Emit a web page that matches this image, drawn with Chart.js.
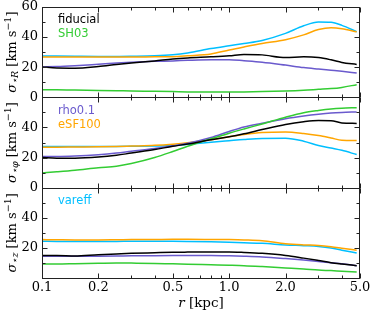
<!DOCTYPE html>
<html>
<head>
<meta charset="utf-8">
<script src="https://cdn.jsdelivr.net/npm/chart.js@4.4.1/dist/chart.umd.min.js"></script>
<style>
    html, body { margin: 0; padding: 0; background: #fff; }
    #chart { display: block; }
</style>
</head>
<body>
<canvas id="chart" width="373" height="313"></canvas>
<script>
// Radii (kpc) where the profiles are sampled
const radii = [0.1, 0.12, 0.15, 0.2, 0.25, 0.3, 0.4, 0.5, 0.6, 0.8, 1.0, 1.2, 1.5, 2.0, 2.5, 3.0, 3.5, 4.0, 4.8];

// sigma_R (km/s)
const fiducialR = [20.2, 19.5, 19.4, 20.5, 21.8, 22.8, 24.2, 25.5, 26.2, 26.9, 27.6, 28.5, 28.2, 26.4, 26.9, 26.4, 24.9, 23.2, 21.8];
const sh03R     = [5.1, 5.0, 4.8, 4.6, 4.4, 4.2, 4.0, 3.8, 3.6, 3.5, 3.5, 3.6, 3.8, 4.2, 4.7, 5.3, 5.8, 6.6, 8.4];
const rho01R    = [20.2, 20.4, 21.0, 22.0, 22.8, 23.3, 23.9, 24.2, 24.6, 25.0, 25.0, 24.3, 23.3, 21.4, 19.8, 18.8, 18.0, 17.3, 16.2];
const esf100R   = [26.8, 26.8, 26.8, 26.8, 26.8, 26.8, 26.9, 27.0, 27.6, 28.8, 31.5, 33.5, 35.8, 38.3, 41.5, 45.0, 46.2, 45.6, 43.5];
const vareffR   = [27.5, 27.4, 27.3, 27.2, 27.2, 27.3, 27.6, 28.3, 29.5, 32.4, 34.3, 35.8, 37.8, 42.5, 47.5, 50.0, 49.8, 47.8, 43.6];

// sigma_phi (km/s)
const fiducialPhi = [20.0, 19.6, 19.6, 20.3, 21.5, 23.0, 25.3, 27.5, 29.0, 31.8, 33.8, 35.8, 38.6, 42.0, 43.8, 44.6, 44.5, 43.0, 42.7];
const sh03Phi     = [9.8, 10.5, 11.5, 13.2, 14.2, 16.0, 20.0, 24.0, 27.5, 32.5, 36.2, 39.0, 42.3, 46.8, 49.8, 51.3, 52.3, 52.8, 53.1];
const rho01Phi    = [20.7, 20.7, 21.0, 21.9, 23.0, 24.2, 26.0, 27.8, 29.5, 33.3, 37.3, 40.3, 42.8, 45.8, 47.6, 48.8, 49.6, 50.0, 50.3];
const esf100Phi   = [26.9, 26.9, 27.0, 27.1, 27.3, 27.6, 28.1, 28.9, 29.8, 31.8, 33.8, 35.3, 36.6, 37.0, 36.0, 34.6, 33.0, 31.5, 31.3];
const vareffPhi   = [27.3, 27.3, 27.3, 27.4, 27.4, 27.5, 27.7, 28.0, 28.8, 30.2, 31.2, 32.0, 32.7, 32.8, 30.9, 28.0, 26.3, 24.8, 22.0];

// sigma_z (km/s)
const fiducialZ = [14.9, 14.9, 14.6, 15.5, 16.0, 16.4, 16.8, 17.1, 17.2, 17.3, 17.3, 17.0, 16.4, 15.0, 13.2, 11.6, 10.2, 9.3, 8.2];
const sh03Z     = [9.3, 9.3, 9.5, 9.8, 10.0, 9.9, 9.7, 9.4, 9.2, 8.8, 8.5, 8.2, 7.6, 6.7, 6.0, 5.3, 4.9, 4.5, 4.0];
const rho01Z    = [14.4, 14.4, 14.4, 14.5, 14.6, 14.7, 14.8, 14.9, 15.0, 15.0, 14.8, 14.5, 14.0, 12.9, 11.9, 11.0, 10.2, 9.4, 8.2];
const esf100Z   = [25.5, 25.4, 25.3, 25.3, 25.4, 25.5, 25.6, 25.7, 25.7, 25.6, 25.5, 25.3, 24.8, 22.8, 22.0, 21.6, 20.8, 19.8, 18.4];
const vareffZ   = [24.4, 24.3, 24.3, 24.3, 24.3, 24.4, 24.4, 24.4, 24.3, 24.0, 23.7, 23.4, 23.0, 22.0, 21.5, 21.0, 20.0, 18.5, 16.6];

// Tick values
const xTicks = [0.1, 0.2, 0.5, 1, 2, 5];
const xMinorTicks = [0.3, 0.4, 0.6, 0.7, 0.8, 0.9, 3, 4];
const yTicks = [0, 20, 40, 60];
const yMinorTicks = [10, 30, 50];

// Model names and colours
const models = ['fiducial', 'SH03', 'rho0.1', 'eSF100', 'vareff'];
const colors = ['#000000', '#33cc33', '#6a5acd', '#ffa500', '#00bfff'];

const panels = [
    { id: 'yR', sub: '⋆R', series: [fiducialR, sh03R, rho01R, esf100R, vareffR], hide: [] },
    { id: 'yPhi', sub: '⋆φ', series: [fiducialPhi, sh03Phi, rho01Phi, esf100Phi, vareffPhi], hide: [60] },
    { id: 'yZ', sub: '⋆z', series: [fiducialZ, sh03Z, rho01Z, esf100Z, vareffZ], hide: [0, 60] }
];

// Where each legend name sits (text position)
const legendSpots = [
    { x: 58, y: 20 },
    { x: 58, y: 34.5 },
    { x: 58, y: 111.5 },
    { x: 58, y: 125 },
    { x: 58, y: 201.5 }
];

// Build the datasets from the arrays above
const datasets = [];
panels.forEach(panel => {
    panel.series.forEach((values, i) => {
        datasets.push({
            label: models[i] + ' ' + panel.id,
            data: radii.map((r, k) => ({ x: r, y: values[k] })),
            yAxisID: panel.id,
            borderColor: colors[i],
            borderWidth: 1.5,
            pointRadius: 0,
            fill: false,
            cubicInterpolationMode: 'monotone'
        });
    });
});

function yScale(panel, weight) {
    return {
        type: 'linear',
        position: 'left',
        stack: 'panels',
        stackWeight: 1,
        weight: weight,
        min: 0,
        max: 60,
        grid: { display: false, drawTicks: false },
        border: { display: false },
        title: { display: false },
        afterBuildTicks: scale => {
            scale.ticks = yTicks.map(v => ({ value: v }));
        },
        afterFit: scale => {
            scale.width = 42;
            scale.paddingTop = 0;
            scale.paddingBottom = 0;
        },
        ticks: {
            autoSkip: false,
            padding: 4,
            color: '#000',
            font: { family: 'DejaVu Serif', size: 13 },
            callback: value => panel.hide.includes(value) ? '' : String(value)
        }
    };
}

function drawYTitle(ctx, cx, cy, sub) {
    const big = '13px DejaVu Serif';
    const small = '9.5px DejaVu Serif';
    const parts = [
        { t: 'σ', f: 'italic ' + big, dy: 0 },
        { t: sub, f: 'italic ' + small, dy: 3 },
        { t: ' [km s', f: big, dy: 0 },
        { t: '−1', f: small, dy: -4 },
        { t: ']', f: big, dy: 0 }
    ];
    let total = 0;
    parts.forEach(p => { ctx.font = p.f; p.w = ctx.measureText(p.t).width; total += p.w; });
    ctx.save();
    ctx.translate(cx, cy);
    ctx.rotate(-Math.PI / 2);
    ctx.fillStyle = '#000';
    ctx.textAlign = 'left';
    ctx.textBaseline = 'middle';
    let x = -total / 2;
    parts.forEach(p => {
        ctx.font = p.f;
        ctx.fillText(p.t, x, p.dy);
        x += p.w;
    });
    ctx.restore();
}

// Frame, inward ticks, axis titles and legend names
const framePlugin = {
    id: 'frame',
    afterDatasetsDraw(chart) {
        const ctx = chart.ctx;
        const area = chart.chartArea;
        const xs = chart.scales.x;
        ctx.save();
        ctx.strokeStyle = '#222';
        ctx.lineWidth = 1;

        panels.forEach(panel => {
            const s = chart.scales[panel.id];
            const top = Math.round(s.top) + 0.5;
            const bottom = Math.round(s.bottom) + 0.5;
            const left = Math.round(area.left) + 0.5;
            const right = Math.round(area.right) - 0.5;
            ctx.strokeRect(left, top, right - left, bottom - top);

            ctx.beginPath();
            yTicks.concat(yMinorTicks).forEach(v => {
                const len = yTicks.includes(v) ? 5 : 3;
                const py = Math.round(s.getPixelForValue(v)) + 0.5;
                ctx.moveTo(left, py); ctx.lineTo(left + len, py);
                ctx.moveTo(right, py); ctx.lineTo(right - len, py);
            });
            xTicks.concat(xMinorTicks).forEach(v => {
                const len = xTicks.includes(v) ? 5 : 3;
                const px = Math.round(xs.getPixelForValue(v)) + 0.5;
                ctx.moveTo(px, bottom); ctx.lineTo(px, bottom - len);
                ctx.moveTo(px, top); ctx.lineTo(px, top + len);
            });
            ctx.stroke();

            drawYTitle(ctx, 13, (s.top + s.bottom) / 2, panel.sub);
        });

        // x title
        ctx.fillStyle = '#000';
        ctx.textBaseline = 'middle';
        const big = '13.5px DejaVu Serif';
        ctx.font = 'italic ' + big;
        const w1 = ctx.measureText('r').width;
        ctx.font = big;
        const w2 = ctx.measureText(' [kpc]').width;
        const cx = (area.left + area.right) / 2;
        const tx = cx - (w1 + w2) / 2;
        ctx.font = 'italic ' + big;
        ctx.fillText('r', tx, 303);
        ctx.font = big;
        ctx.fillText(' [kpc]', tx + w1, 303);

        // legend names
        ctx.font = '11.5px DejaVu Sans';
        ctx.textAlign = 'left';
        legendSpots.forEach((spot, i) => {
            ctx.fillStyle = colors[i];
            ctx.fillText(models[i], spot.x, spot.y);
        });
        ctx.restore();
    }
};

new Chart(document.getElementById('chart'), {
    type: 'line',
    data: { datasets: datasets },
    options: {
        responsive: false,
        animation: false,
        layout: { padding: { top: 7, right: 13, left: 0, bottom: 0 } },
        plugins: {
            legend: { display: false },
            tooltip: { enabled: false }
        },
        scales: {
            x: {
                type: 'logarithmic',
                position: 'bottom',
                min: 0.1,
                max: 5,
                grid: { display: false, drawTicks: false },
                border: { display: false },
                afterBuildTicks: scale => {
                    scale.ticks = xTicks.map(v => ({ value: v }));
                },
                afterFit: scale => {
                    scale.height = 35;
                },
                ticks: {
                    autoSkip: false,
                    maxRotation: 0,
                    padding: 2,
                    color: '#000',
                    font: { family: 'DejaVu Serif', size: 13 },
                    callback: value => Number(value).toFixed(1)
                }
            },
            yZ: yScale(panels[2], 1),
            yPhi: yScale(panels[1], 2),
            yR: yScale(panels[0], 3)
        }
    },
    plugins: [framePlugin]
});
</script>
</body>
</html>
